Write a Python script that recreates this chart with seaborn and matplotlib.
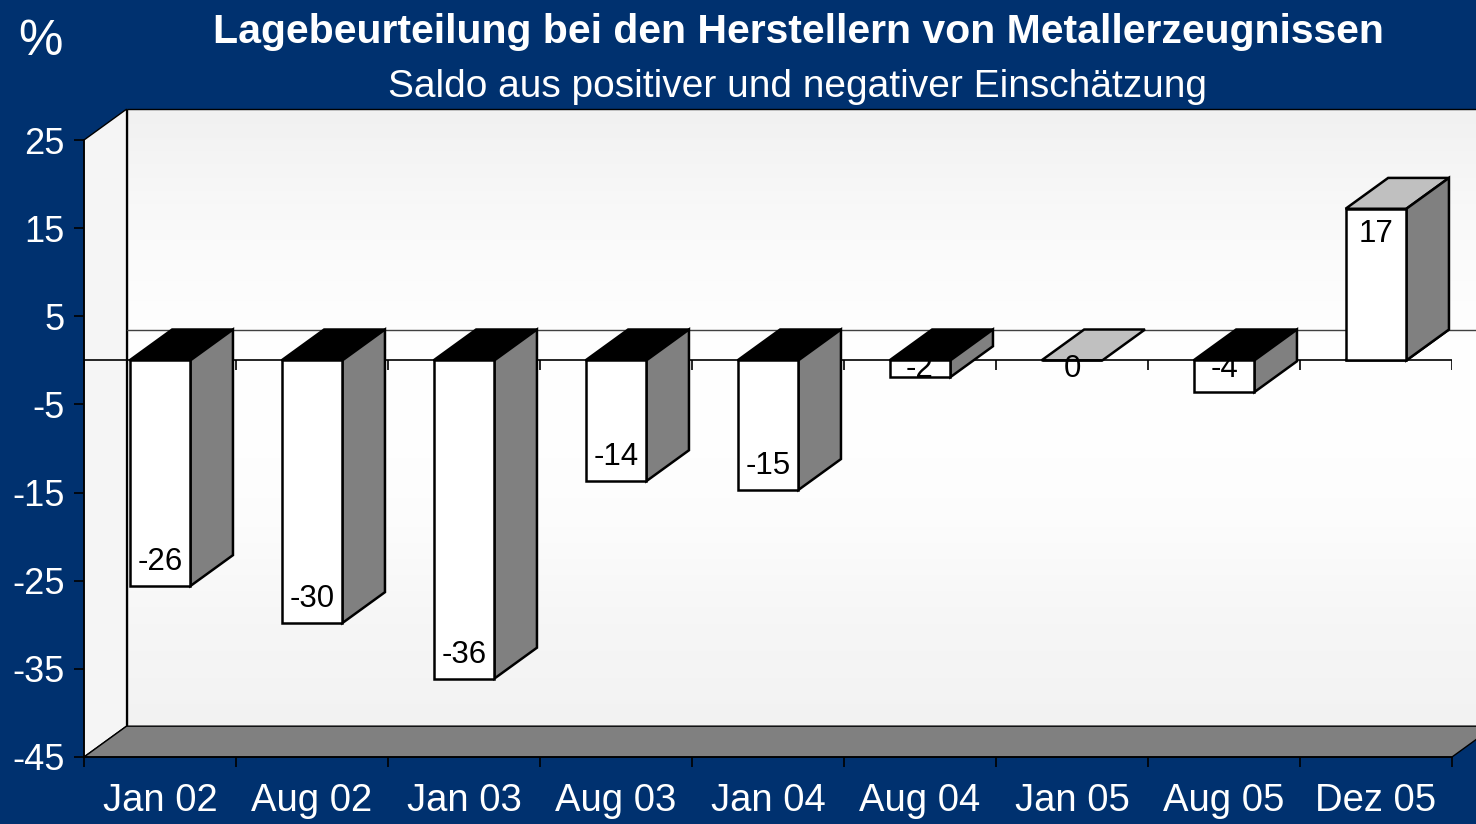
import numpy as np
import pandas as pd
import seaborn as sns
import matplotlib.pyplot as plt
from matplotlib.patches import Polygon

# Chart data
categories = ["Jan 02", "Aug 02", "Jan 03", "Aug 03", "Jan 04",
              "Aug 04", "Jan 05", "Aug 05", "Dez 05"]
saldo = [-25.6, -29.8, -36.1, -13.7, -14.7, -1.9, 0.0, -3.6, 17.2]
y_ticks = [-45, -35, -25, -15, -5, 5, 15, 25]

df = pd.DataFrame({"Monat": categories, "Saldo": saldo})

BG = "#00316f"
YMIN, YMAX = -45, 25
DX, DY = 0.28, 3.5   # 3D depth offset in data units

sns.set_theme(style="white")
plt.rcParams["font.family"] = ["Liberation Sans", "DejaVu Sans"]
plt.rcParams["axes.unicode_minus"] = False

fig = plt.figure(figsize=(14.76, 8.24), dpi=100, facecolor=BG)
ax = fig.add_axes([84 / 1476, 67 / 824, 1368 / 1476, 617 / 824])
ax.set_facecolor("none")

n = len(categories)
x0, x1 = -0.5, n - 0.5

# back wall with a soft vertical gradient
grad = np.array([0.945, 0.975, 0.995, 1.0, 0.99, 0.965, 0.95])
grad = np.interp(np.linspace(0, 1, 200), np.linspace(0, 1, len(grad)), grad)
img = np.repeat(grad[:, None, None], 3, axis=2)
im = ax.imshow(img, extent=(x0 + DX, x1 + DX, YMIN + DY, YMAX + DY),
               aspect="auto", zorder=0, interpolation="bilinear")
im.set_clip_on(False)
ax.add_patch(Polygon([(x0 + DX, YMIN + DY), (x0 + DX, YMAX + DY), (x1 + DX + 1, YMAX + DY)],
                     closed=False, fill=False, edgecolor="black", lw=1, zorder=1, clip_on=False))

# left wall
ax.add_patch(Polygon([(x0, YMIN), (x0, YMAX), (x0 + DX, YMAX + DY), (x0 + DX, YMIN + DY)],
                     facecolor="#f5f5f5", edgecolor="black", lw=1, zorder=1, clip_on=False))
# floor
ax.add_patch(Polygon([(x0, YMIN), (x1, YMIN), (x1 + DX, YMIN + DY), (x0 + DX, YMIN + DY)],
                     facecolor="#808080", edgecolor="black", lw=1, zorder=1, clip_on=False))

# zero lines (back and front) with category ticks
ax.plot([x0 + DX, x1 + DX + 1], [DY, DY], color="#404040", lw=1, zorder=2, clip_on=False)
ax.axhline(0, color="black", lw=1.2, zorder=2)
ax.vlines(np.arange(n + 1) - 0.5, -1.1, 0, color="black", lw=1.2, zorder=2)

# front faces of the bars
sns.barplot(data=df, x="Monat", y="Saldo", width=0.4, color="white", saturation=1,
            edgecolor="black", linewidth=1.8, ax=ax, zorder=4)

# top and side faces for the 3D look
for bar, v in zip(ax.containers[0], saldo):
    a = bar.get_x()
    b = a + bar.get_width()
    top_col = "#c0c0c0" if v >= 0 else "black"
    ax.add_patch(Polygon([(a, 0), (b, 0), (b + DX, DY), (a + DX, DY)],
                         facecolor=top_col, edgecolor="black", lw=1.8, zorder=3, clip_on=False))
    if v > 0:
        ax.add_patch(Polygon([(a, v), (b, v), (b + DX, v + DY), (a + DX, v + DY)],
                             facecolor="#c0c0c0", edgecolor="black", lw=1.8, zorder=3, clip_on=False))
    if v != 0:
        ax.add_patch(Polygon([(b, 0), (b, v), (b + DX, v + DY), (b + DX, DY)],
                             facecolor="#808080", edgecolor="black", lw=1.8, zorder=3, clip_on=False))
    cx = a + bar.get_width() / 2
    ly = v - 2.9 if v > 0 else min(v + 2.7, -1.0)
    ax.text(cx, ly, f"{v:.0f}", ha="center", va="center", fontsize=22.5, color="black", zorder=6)

ax.set_xlim(x0, x1)
ax.set_ylim(YMIN, YMAX)
ax.set_yticks(y_ticks)
ax.set_xticks(range(n))
ax.set_xticklabels(categories)
ax.set_xticks(np.arange(n + 1) - 0.5, minor=True)
ax.set_xlabel("")
ax.set_ylabel("")

for s in ["top", "right"]:
    ax.spines[s].set_visible(False)
for s in ["left", "bottom"]:
    ax.spines[s].set_color("black")
    ax.spines[s].set_linewidth(1.2)
    ax.spines[s].set_zorder(2)

ax.tick_params(axis="y", which="major", direction="out", length=7, width=1.2, color="black",
               pad=7, labelsize=26, labelcolor="white", left=True)
ax.tick_params(axis="x", which="major", length=0, pad=19, labelsize=27.5, labelcolor="white")
ax.tick_params(axis="x", which="minor", direction="out", length=7, width=1.2, color="black",
               bottom=True)

fig.text(18 / 1476, 1 - 55 / 824, "%", color="white", fontsize=36, ha="left", va="baseline")
fig.text(798 / 1476, 1 - 43 / 824, "Lagebeurteilung bei den Herstellern von Metallerzeugnissen",
         color="white", fontsize=29.5, fontweight="bold", ha="center", va="baseline")
fig.text(798 / 1476, 1 - 97 / 824, "Saldo aus positiver und negativer Einschätzung",
         color="white", fontsize=28, ha="center", va="baseline")

fig.savefig("out.png", dpi=100, facecolor=BG)
